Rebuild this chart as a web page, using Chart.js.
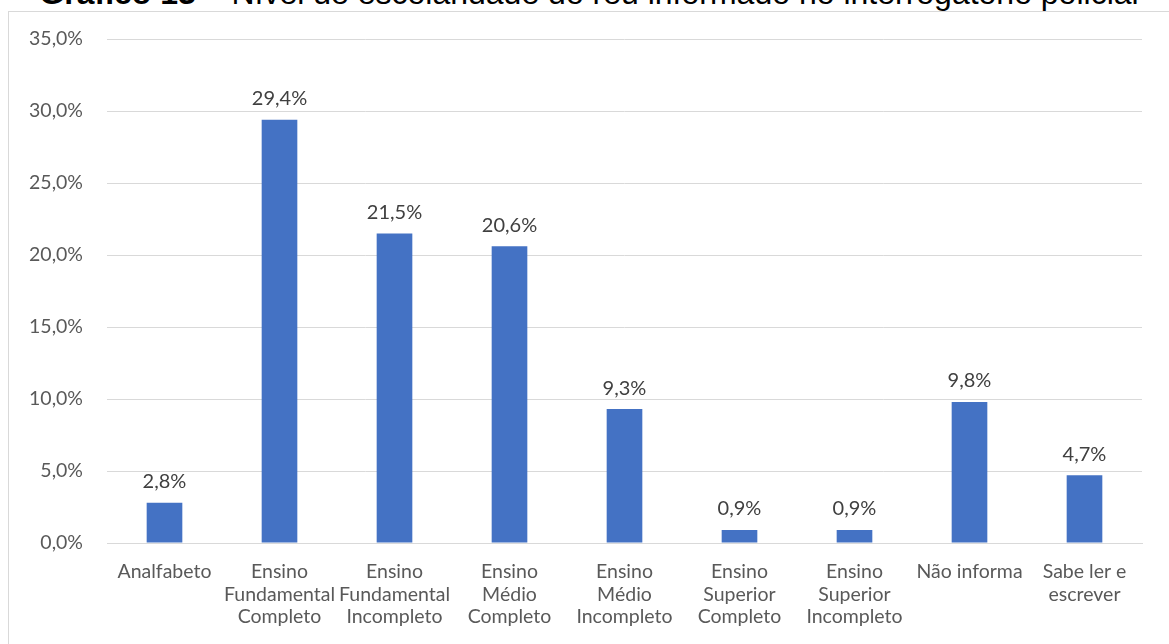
<!DOCTYPE html>
<html>
<head>
<meta charset="utf-8">
<script src="https://cdn.jsdelivr.net/npm/chart.js@4/dist/chart.umd.min.js"></script>
<style>
    html, body { margin: 0; padding: 0; background: #fff; overflow: hidden; }
    body { width: 1169px; height: 644px; position: relative; }
    #title {
        position: absolute; left: 0; width: 1178px; top: -25px;
        text-align: center; font-family: "Liberation Sans", Arial, sans-serif;
        font-size: 32px; line-height: 37px; color: #000; white-space: nowrap;
    }
    #box {
        position: absolute; left: 8px; top: 11px; width: 1170px; height: 640px;
        border-left: 1px solid #d9d9d9; border-top: 1px solid #d9d9d9;
    }
    #wrap { position: absolute; left: 0; top: 0; width: 1160px; height: 632px; }
</style>
</head>
<body>
<div id="title"><b>Gráfico 13</b> – Nível de escolaridade do réu informado no interrogatório policial</div>
<div id="box"><div id="wrap"><canvas id="escolaridadeChart"></canvas></div></div>
<script>
    const categories = [
        "Analfabeto",
        ["Ensino", "Fundamental", "Completo"],
        ["Ensino", "Fundamental", "Incompleto"],
        ["Ensino", "Médio", "Completo"],
        ["Ensino", "Médio", "Incompleto"],
        ["Ensino", "Superior", "Completo"],
        ["Ensino", "Superior", "Incompleto"],
        "Não informa",
        ["Sabe ler e", "escrever"]
    ];
    const percentages = [2.8, 29.4, 21.5, 20.6, 9.3, 0.9, 0.9, 9.8, 4.7];
    const yTicks = [0, 5, 10, 15, 20, 25, 30, 35];

    const fmt = (v) => v.toFixed(1).replace(".", ",") + "%";
    const labelFont = { family: "Lato, 'Open Sans', sans-serif", size: 19.5, lineHeight: 1.15 };

    // draws the value above each bar
    const valueLabels = {
        id: "valueLabels",
        afterDatasetsDraw(chart) {
            const { ctx } = chart;
            const meta = chart.getDatasetMeta(0);
            ctx.save();
            ctx.font = `20px ${labelFont.family}`;
            ctx.fillStyle = "#404040";
            ctx.textAlign = "center";
            ctx.textBaseline = "bottom";
            meta.data.forEach((bar, i) => {
                ctx.fillText(fmt(percentages[i]), bar.x, bar.y - 11);
            });
            ctx.restore();
        }
    };

    new Chart(document.getElementById("escolaridadeChart"), {
        type: "bar",
        data: {
            labels: categories,
            datasets: [{
                data: percentages,
                backgroundColor: "#4472C4",
                barPercentage: 0.31,
                categoryPercentage: 1
            }]
        },
        options: {
            responsive: true,
            maintainAspectRatio: false,
            animation: false,
            layout: { padding: { top: 27, right: 27, left: 0, bottom: 0 } },
            plugins: {
                legend: { display: false },
                tooltip: { enabled: false }
            },
            scales: {
                x: {
                    grid: { display: false, drawTicks: false },
                    border: { color: "#d9d9d9" },
                    ticks: {
                        color: "#595959", font: labelFont, padding: 18,
                        maxRotation: 0, autoSkip: false
                    },
                    afterFit: (axis) => {
                        axis.height = 101;
                        axis.paddingLeft = 0;
                        axis.paddingRight = 0;
                    }
                },
                y: {
                    min: 0, max: 35,
                    afterBuildTicks: (axis) => { axis.ticks = yTicks.map((v) => ({ value: v })); },
                    grid: { color: "#d9d9d9", drawTicks: false },
                    border: { display: false },
                    ticks: {
                        color: "#595959", font: labelFont, padding: 24,
                        callback: (v) => fmt(v)
                    },
                    afterFit: (axis) => {
                        axis.width = 98;
                        axis.paddingTop = 0;
                        axis.paddingBottom = 0;
                    }
                }
            }
        },
        plugins: [valueLabels]
    });
</script>
</body>
</html>
